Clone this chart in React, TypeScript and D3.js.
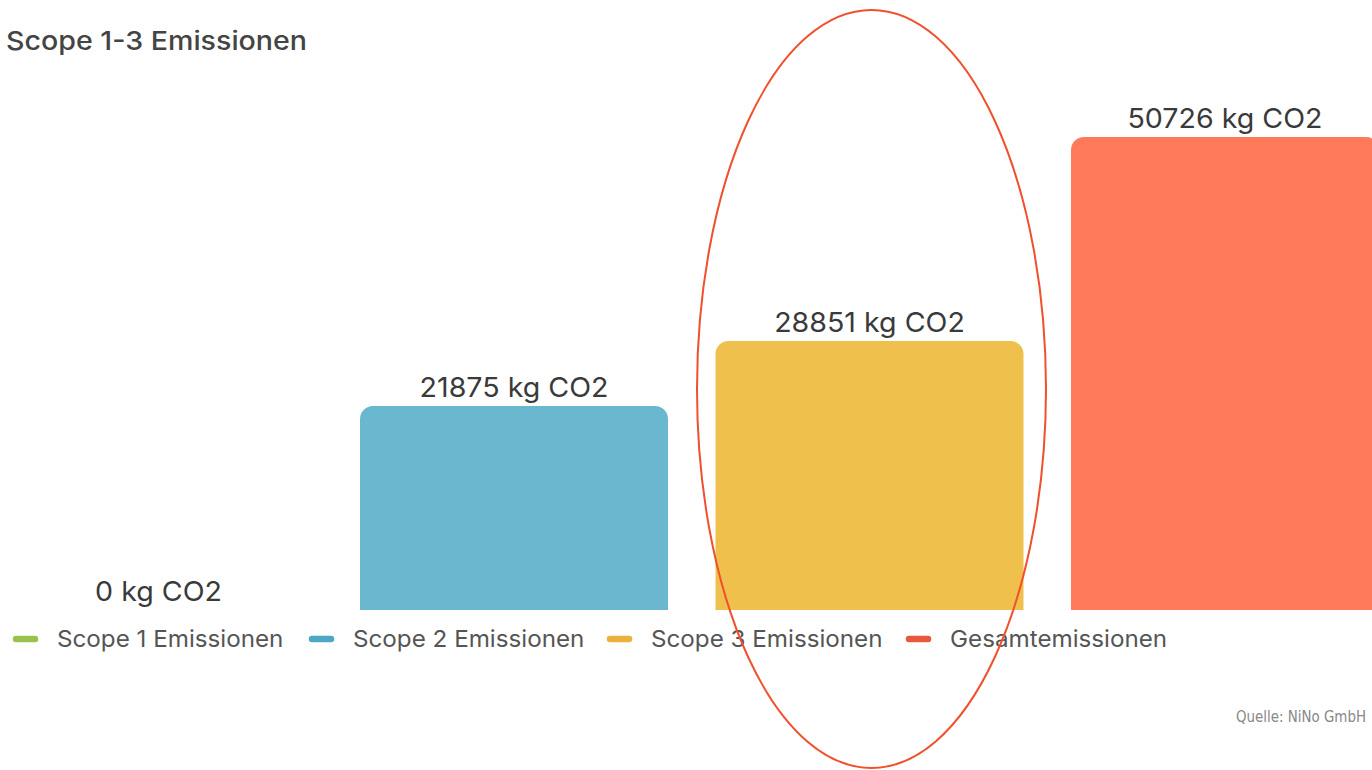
import React from "react";
import * as d3 from "d3";

const categories = ["Scope 1 Emissionen", "Scope 2 Emissionen", "Scope 3 Emissionen", "Gesamtemissionen"];
const values = [0, 21875, 28851, 50726];
const barColors = ["#9cc54a", "#6ab8cf", "#f0c04d", "#fe7a5b"];
const legendColors = ["#98c24c", "#4ea8c4", "#e9b33b", "#e8583c"];
const unit = "kg CO2";
const title = "Scope 1-3 Emissionen";
const source = "Quelle: NiNo GmbH";

const W = 1372;
const H = 770;
const baseY = 610;

function topRounded(x: number, y: number, w: number, h: number, r: number) {
  if (h <= 0) return "";
  const rr = Math.min(r, h, w / 2);
  const p = d3.path();
  p.moveTo(x, y + h);
  p.lineTo(x, y + rr);
  p.arcTo(x, y, x + rr, y, rr);
  p.lineTo(x + w - rr, y);
  p.arcTo(x + w, y, x + w, y + rr, rr);
  p.lineTo(x + w, y + h);
  p.closePath();
  return p.toString();
}

export default function App() {
  const x = d3.scaleBand<string>().domain(categories).range([4.5, 1379]).paddingInner(0.1336).paddingOuter(0);
  const y = d3.scaleLinear().domain([0, 50726]).range([baseY, 137]);
  const legendX = [13, 309, 607, 906];
  const font = "Inter, Roboto, 'Noto Sans', sans-serif";
  return (
    <div style={{ position: "absolute", left: 0, top: 0, width: W, height: H, overflow: "hidden", background: "#fff" }}>
      <svg width={W} height={H} style={{ display: "block" }}>
        <text transform="translate(6,50) scale(1.1,1)" fontFamily={font} fontSize={26} fontWeight={450} fill="#444">{title}</text>
        {categories.map((c, i) => {
          const bx = x(c)!;
          const bw = x.bandwidth();
          const ty = y(values[i]);
          return (
            <g key={c}>
              {values[i] > 0 && (
                <path d={topRounded(bx, ty, bw, baseY - ty, 13)} fill={barColors[i]} />
              )}
              <text transform={`translate(${bx + bw / 2},${ty - 9}) scale(1.04,1)`} textAnchor="middle" fontFamily={font} fontSize={27.5} fill="#3a3a3a">
                {values[i] + " " + unit}
              </text>
            </g>
          );
        })}
        {categories.map((c, i) => (
          <g key={"lg" + c}>
            <line x1={legendX[i] + 3} x2={legendX[i] + 22} y1={639} y2={639} stroke={legendColors[i]} strokeWidth={6.5} strokeLinecap="round" />
            <text transform={`translate(${legendX[i] + 44},647) scale(1.03,1)`} fontFamily={font} fontSize={23.5} fill="#555">{c}</text>
          </g>
        ))}
        <text x={1366} y={722} textAnchor="end" fontFamily="'DejaVu Sans Condensed', 'DejaVu Sans', sans-serif" fontSize={15} fill="#888" textLength={130} lengthAdjust="spacingAndGlyphs">{source}</text>
        <ellipse cx={871.5} cy={389} rx={174.5} ry={379} fill="none" stroke="#f0502d" strokeWidth={2} />
      </svg>
    </div>
  );
}
